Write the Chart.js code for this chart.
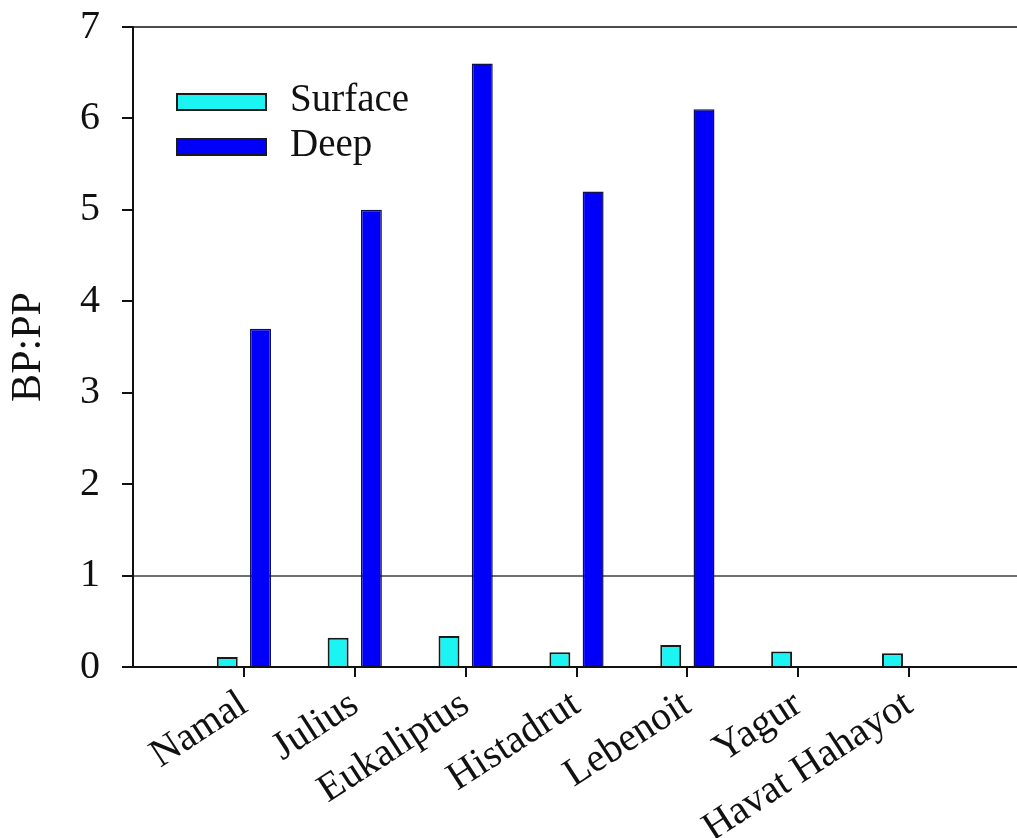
<!DOCTYPE html>
<html>
<head>
<meta charset="utf-8">
<script src="https://cdn.jsdelivr.net/npm/chart.js@4/dist/chart.umd.min.js"></script>
<style>
  html, body { margin: 0; padding: 0; background: #fff; overflow: hidden; }
  #wrap { width: 1020px; height: 838px; }
</style>
</head>
<body>
<div id="wrap"><canvas id="ratioChart" width="1020" height="838"></canvas></div>
<script>
// Sites and BP:PP ratios
const sites = ['Namal', 'Julius', 'Eukaliptus', 'Histadrut', 'Lebenoit', 'Yagur', 'Havat Hahayot'];
const surfaceRatio = [0.11, 0.32, 0.34, 0.16, 0.24, 0.17, 0.15];
const deepRatio = [3.7, 5.0, 6.6, 5.2, 6.1, null, null];
const yTicks = [0, 1, 2, 3, 4, 5, 6, 7];

// empty slots on both ends give the axis its margin
const labels = [''].concat(sites, ['']);
const pad = arr => [null].concat(arr, [null]);

const FONT = "'Liberation Serif', 'Times New Roman', serif";

// Legend drawn inside the plot area, top left
const insideLegend = {
  id: 'insideLegend',
  afterDraw(chart) {
    const ctx = chart.ctx;
    const area = chart.chartArea;
    const x0 = area.left + 43;
    let y0 = area.top + 66;
    ctx.save();
    chart.data.datasets.forEach(ds => {
      ctx.fillStyle = ds.backgroundColor;
      ctx.fillRect(x0, y0, 91, 18);
      ctx.lineWidth = 2;
      ctx.strokeStyle = '#1a1a1a';
      ctx.strokeRect(x0 + 1, y0 + 1, 89, 16);
      ctx.fillStyle = '#111';
      ctx.font = '39px ' + FONT;
      ctx.textBaseline = 'middle';
      ctx.fillText(ds.label, x0 + 114, y0 + 8);
      y0 += 45;
    });
    ctx.restore();
  }
};

const ctx = document.getElementById('ratioChart').getContext('2d');
new Chart(ctx, {
  type: 'bar',
  data: {
    labels: labels,
    datasets: [
      {
        label: 'Surface',
        data: pad(surfaceRatio),
        backgroundColor: '#1cf3f3',
        borderColor: '#1a1a1a',
        borderWidth: 2
      },
      {
        label: 'Deep',
        data: pad(deepRatio),
        backgroundColor: '#0000fa',
        borderColor: '#101050',
        borderWidth: 1.5
      }
    ]
  },
  options: {
    responsive: false,
    animation: false,
    layout: { padding: { top: 27, right: 0, left: 0, bottom: 0 } },
    datasets: {
      bar: { categoryPercentage: 0.6, barPercentage: 0.63 }
    },
    plugins: {
      legend: { display: false },
      tooltip: { enabled: false }
    },
    scales: {
      x: {
        offset: false,
        grid: {
          offset: false,
          drawOnChartArea: false,
          tickLength: 10,
          lineWidth: 2,
          tickColor: c => (c.index === 0 || c.index === labels.length - 1) ? 'transparent' : '#111'
        },
        border: { color: '#111', width: 2 },
        ticks: {
          autoSkip: false,
          minRotation: 33,
          maxRotation: 33,
          padding: 4,
          color: '#111',
          font: { family: FONT, size: 40 }
        },
        afterFit: scale => {
          scale.height = 171;
          scale.paddingLeft = 0;
          scale.paddingRight = 0;
        }
      },
      y: {
        min: 0,
        max: 7,
        afterBuildTicks: scale => { scale.ticks = yTicks.map(v => ({ value: v })); },
        grid: {
          tickLength: 11,
          lineWidth: 2,
          color: c => c.tick && c.tick.value === 1 ? '#707070' : (c.tick && c.tick.value === 7 ? '#4c4c4c' : 'transparent'),
          tickColor: '#111'
        },
        border: { color: '#111', width: 2 },
        ticks: {
          padding: 22,
          color: '#111',
          font: { family: FONT, size: 40 }
        },
        title: {
          display: true,
          text: 'BP:PP',
          color: '#111',
          font: { family: FONT, size: 42 },
          padding: { top: 4, bottom: 0 }
        },
        afterFit: scale => {
          scale.width = 133;
          scale.paddingTop = 0;
          scale.paddingBottom = 0;
        }
      }
    }
  },
  plugins: [insideLegend]
});
</script>
</body>
</html>
